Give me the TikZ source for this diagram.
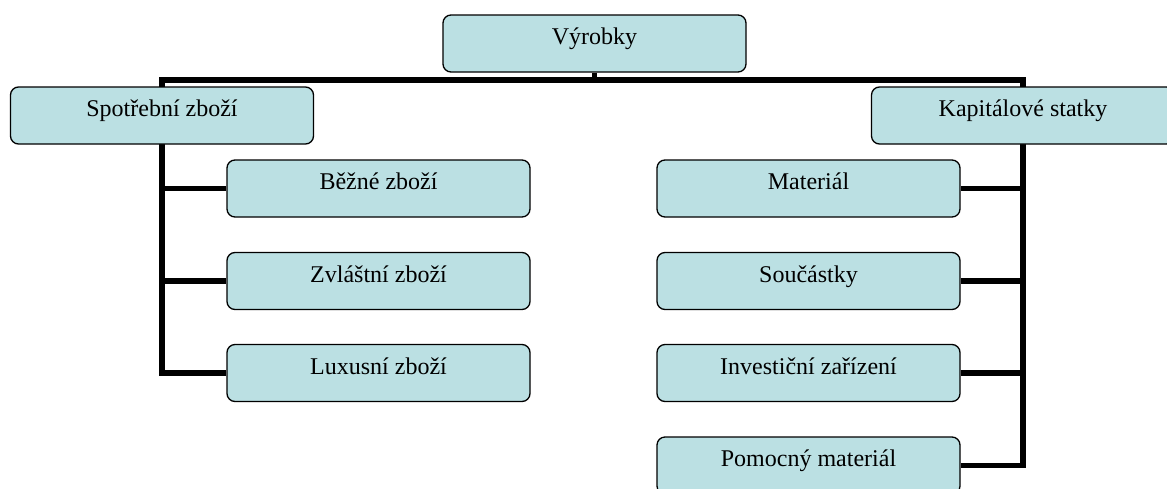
\documentclass[tikz,border=0pt]{standalone}
\usepackage{fontspec}
\setmainfont{Liberation Serif}
\usetikzlibrary{backgrounds}
\definecolor{boxfill}{RGB}{187,224,227}
\tikzset{
  orgbox/.style={draw=black, line width=1.3pt, fill=boxfill, rounded corners=8pt,
    rectangle, minimum width=303pt, inner xsep=0pt, inner ysep=0pt,
    text height=29.5pt, text depth=27.5pt, font=\fontsize{24}{28}\selectfont},
  conn/.style={draw=black, line width=5.5pt, line join=miter}
}
\begin{document}
\begin{tikzpicture}[x=1pt,y=-1pt]
\useasboundingbox (0,0) rectangle (1167,488);
\clip (0,0) rectangle (1167,488);
% boxes
\node[orgbox] (vyr) at (594.5,43.5) {Výrobky};
\node[orgbox] (spot) at (162,115.5) {Spotřební zboží};
\node[orgbox] (kap) at (1023,115.5) {Kapitálové statky};
\node[orgbox] (bez) at (378.5,188.5) {Běžné zboží};
\node[orgbox] (zvl) at (378.5,281) {Zvláštní zboží};
\node[orgbox] (lux) at (378.5,373) {Luxusní zboží};
\node[orgbox] (mat) at (808.5,188.5) {Materiál};
\node[orgbox] (sou) at (808.5,281) {Součástky};
\node[orgbox] (inv) at (808.5,373) {Investiční zařízení};
\node[orgbox] (pom) at (808.5,465.5) {Pomocný materiál};
% connectors, behind the boxes
\coordinate (barL) at (162,80);
\coordinate (barR) at (1023,80);
\begin{scope}[on background layer]
\draw[conn] (vyr.south) -- (vyr.south |- barL);
\draw[conn] (lux.west) -| (barL) -- (barR) |- (pom.east);
\draw[conn] (barL |- zvl.west) -- (zvl.west);
\draw[conn] (barL |- bez.west) -- (bez.west);
\draw[conn] (barR |- inv.east) -- (inv.east);
\draw[conn] (barR |- sou.east) -- (sou.east);
\draw[conn] (barR |- mat.east) -- (mat.east);
\end{scope}
\end{tikzpicture}
\end{document}
